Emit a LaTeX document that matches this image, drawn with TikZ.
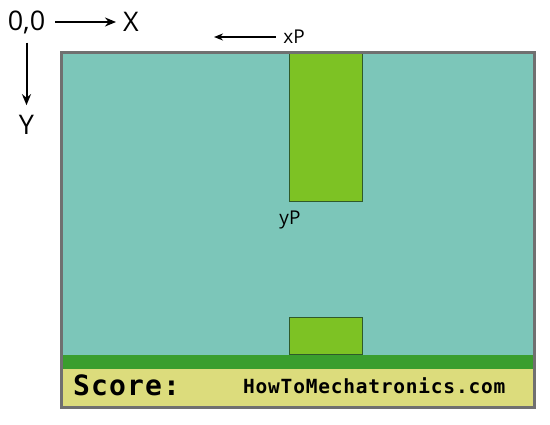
\documentclass[tikz,border=0pt]{standalone}
\usepackage{fontspec}
\setmainfont{Open Sans}
\newfontfamily\monof{DejaVu Sans Mono}
\usetikzlibrary{arrows.meta,calc}
\definecolor{sky}{HTML}{7CC6B9}
\definecolor{pipe}{HTML}{7DC224}
\definecolor{ground}{HTML}{3A9E2E}
\definecolor{bar}{HTML}{DCDC7C}
\definecolor{frame}{HTML}{707070}
\definecolor{pipeedge}{HTML}{2F5A2A}
\tikzset{
  lbl/.style={inner sep=0pt, anchor=center},
  big/.style={lbl, font=\fontsize{27}{29}\selectfont},
  small/.style={lbl, font=\fontsize{19}{21}\selectfont},
  arr/.style={-{Stealth[length=11pt,width=9pt]}, line width=2pt},
  pipebox/.style={fill=pipe, draw=pipeedge, line width=1pt},
}
\begin{document}
\begin{tikzpicture}[x=1pt,y=-1pt]
\useasboundingbox (0,0) rectangle (550,425);
% sky
\fill[sky] (61,53) rectangle (534,408);
% ground strip and bar
\fill[ground] (61,355) rectangle (534,369);
\fill[bar] (61,369) rectangle (534,408);
% pipes
\draw[pipebox] (289,53) rectangle (362.5,201.5);
\draw[pipebox] (289,317.5) rectangle (362.5,355);
% frame
\draw[frame, line width=3pt] (61,53) rectangle (534,408);
% axes
\node[big] (o) at (26.5,22) {0,0};
\node[big] (x) at (131,22) {X};
\node[big] (y) at (26.5,125) {Y};
\draw[arr, shorten <=10pt, shorten >=7pt] (o.east) -- (x.west);
\draw[arr, shorten <=9pt, shorten >=10pt] (o.south) -- (y.north);
% pipe labels
\node[small] (xp) at (294,37) {xP};
\coordinate (xpend) at (214,37);
\draw[arr, line width=1.6pt, {Stealth[length=9pt,width=7pt]}-, shorten >=7pt] (xpend) -- (xp.west);
\node[small] (yp) at (290,220) {yP};
% score bar
\node[lbl, anchor=west, font=\monof\bfseries\fontsize{28}{30}\selectfont\addfontfeature{LetterSpace=4}] (score) at (73,385.5) {Score:};
\node[lbl, anchor=west, font=\monof\bfseries\fontsize{19.5}{22}\selectfont\addfontfeature{LetterSpace=4}] (site) at (243,385.5) {HowToMechatronics.com};
\end{tikzpicture}
\end{document}
